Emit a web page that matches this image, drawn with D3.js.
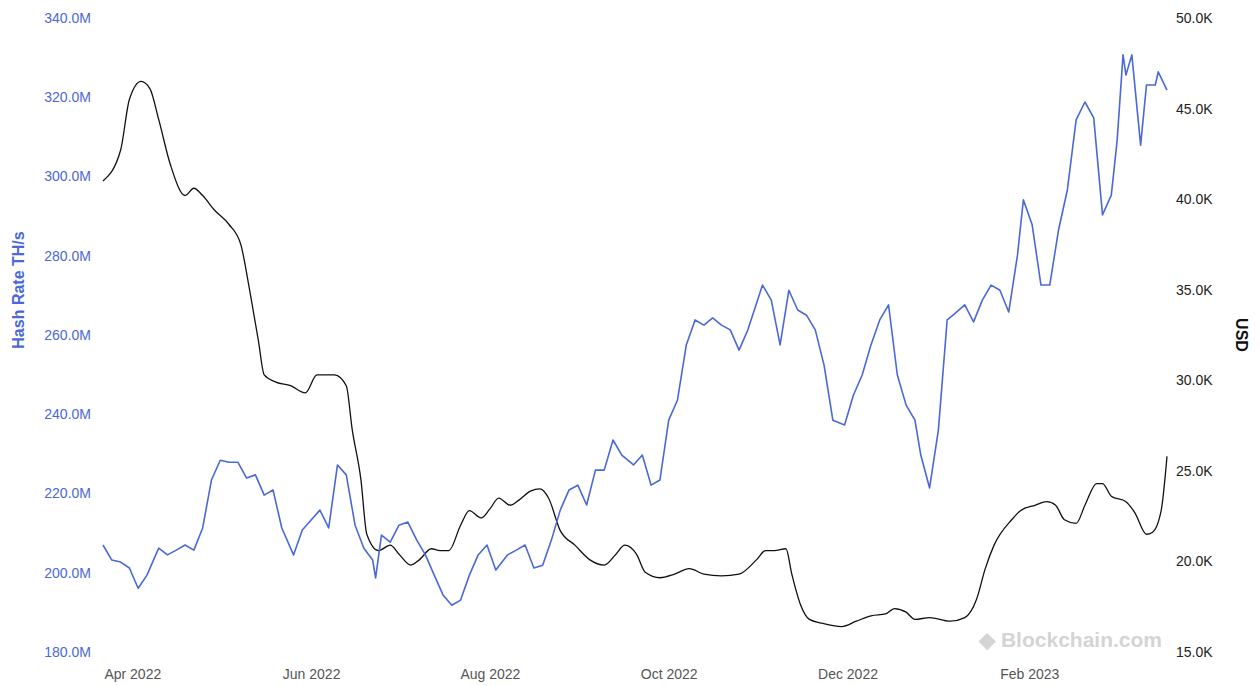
<!DOCTYPE html>
<html><head><meta charset="utf-8">
<script src="https://cdn.jsdelivr.net/npm/d3@7"></script>
<style>body{margin:0;background:#fff;font-family:"Liberation Sans",Arial,sans-serif}</style>
</head><body><div id="chart"></div>
<script>
// days since 2022-03-22
var hashDays = [0,3,6,9,12,15,19,22,25,28,31,34,37,40,43,46,49,52,55,58,61,65,68,71,74,77,80,83,86,89,92,93,95,98,101,104,107,110,113,116,119,122,125,128,131,134,138,141,144,147,150,153,156,159,162,165,168,171,174,177,181,184,187,190,193,196,199,202,205,208,211,214,217,220,225,228,231,234,237,240,243,246,249,253,256,259,262,265,268,271,274,277,279,282,285,288,290,294,297,300,303,306,309,312,314,317,320,323,326,329,332,335,338,341,344,346,348,349,351,354,356,359,360,363];
var hashValues = [207.0,203.2,202.7,201.2,196.1,199.4,206.2,204.5,205.7,207.0,205.7,211.3,223.4,228.4,227.9,227.9,223.9,224.7,219.6,220.9,211.3,204.5,210.8,213.3,215.8,211.3,227.2,224.7,212.0,206.2,203.2,198.7,209.5,207.7,212.0,212.8,208.3,204.5,199.4,194.4,191.8,193.1,199.4,204.5,207.0,200.7,204.5,205.7,207.0,201.2,201.9,208.3,215.8,220.9,222.1,217.1,225.9,225.9,233.5,229.7,227.2,229.7,222.1,223.4,238.5,243.6,257.5,263.8,262.5,264.3,262.5,261.3,256.2,261.3,272.6,268.8,257.5,271.3,266.3,265.0,261.3,252.4,238.5,237.3,244.8,249.9,257.5,263.8,267.6,249.9,242.3,238.5,229.7,221.4,236.0,263.8,265.0,267.6,263.3,268.8,272.6,271.3,265.8,280.2,294.1,287.8,272.6,272.6,286.5,296.6,314.3,318.8,314.8,290.3,295.3,309.2,330.7,325.6,330.7,307.9,323.1,323.1,326.4,321.8];
var priceDays = [0,6,9,13,16,19,23,28,31,34,38,43,47,50,53,55,59,64,69,73,79,83,85,88,90,94,98,101,105,108,112,115,118,122,125,129,132,135,139,142,146,149,152,156,161,166,171,175,178,182,185,190,195,200,205,211,217,223,226,229,233,235,238,241,245,252,257,262,267,270,274,277,282,289,294,298,301,304,310,313,318,322,325,328,332,335,339,341,344,349,352,356,358,361,363];
var priceValues = [41.0,42.7,45.5,46.5,46.1,44.4,41.9,40.2,40.6,40.2,39.4,38.6,37.5,35.0,32.2,30.3,29.9,29.7,29.3,30.3,30.3,29.7,27.3,24.5,21.5,20.6,20.9,20.4,19.8,20.1,20.7,20.6,20.6,22.0,22.8,22.4,22.9,23.5,23.1,23.4,23.9,24.0,23.5,21.7,20.9,20.1,19.8,20.4,20.9,20.4,19.4,19.1,19.3,19.6,19.3,19.2,19.3,20.1,20.6,20.6,20.7,19.3,17.6,16.8,16.6,16.4,16.7,17.0,17.1,17.4,17.2,16.8,16.9,16.7,16.9,17.9,19.6,20.9,22.3,22.8,23.1,23.3,23.1,22.3,22.1,23.1,24.3,24.3,23.6,23.3,22.7,21.5,21.6,22.8,25.8];
var hashTicks = [180,200,220,240,260,280,300,320,340];
var priceTicks = [15,20,25,30,35,40,45,50];
var monthTicks = ['2022-04-01','2022-06-01','2022-08-01','2022-10-01','2022-12-01','2023-02-01'];

var W = 1260, H = 686, blue = "#4a68d8", font = 'Liberation Sans, Arial, sans-serif';
var start = new Date(2022, 2, 22);
function dayToDate(d){ return d3.timeDay.offset(start, d); }
var parse = d3.timeParse('%Y-%m-%d');

var svg = d3.select('#chart').append('svg').attr('width', W).attr('height', H);

var x = d3.scaleTime().domain([start, dayToDate(363)]).range([103, 1167]);
var yL = d3.scaleLinear().domain([180, 340]).range([652, 18]);
var yR = d3.scaleLinear().domain([15, 50]).range([652, 18]);

var xAxis = svg.append('g').attr('transform', 'translate(0,660)')
    .call(d3.axisBottom(x).tickValues(monthTicks.map(parse))
        .tickFormat(d3.timeFormat('%b %Y')).tickSize(0).tickPadding(9));
xAxis.select('.domain').remove();
xAxis.selectAll('text').attr('fill', '#555').style('font-size', '14px').style('font-family', font);

var left = svg.append('g').attr('transform', 'translate(93,0)')
    .call(d3.axisLeft(yL).tickValues(hashTicks).tickFormat(function(d){ return d.toFixed(1) + 'M'; }).tickSize(0).tickPadding(2));
left.select('.domain').remove();
left.selectAll('text').attr('fill', blue).style('font-size', '14px').style('font-family', font);

var right = svg.append('g').attr('transform', 'translate(1174,0)')
    .call(d3.axisRight(yR).tickValues(priceTicks).tickFormat(function(d){ return d.toFixed(1) + 'K'; }).tickSize(0).tickPadding(2));
right.select('.domain').remove();
right.selectAll('text').attr('fill', '#222').style('font-size', '14px').style('font-family', font);

svg.append('text').attr('transform', 'translate(24,290) rotate(-90)')
    .attr('text-anchor', 'middle').attr('fill', blue).style('font-weight', 'bold').style('font-size', '16px')
    .style('font-family', font).text('Hash Rate TH/s');
svg.append('text').attr('transform', 'translate(1236,335) rotate(90)')
    .attr('text-anchor', 'middle').attr('fill', '#111').style('font-weight', 'bold').style('font-size', '16px')
    .style('font-family', font).text('USD');

// watermark
svg.append('text').attr('x', 1162).attr('y', 647).attr('text-anchor', 'end')
    .attr('fill', '#d4d4d4').style('font-size', '21px').style('font-weight', 'bold')
    .style('font-family', font).text('\u25C6 Blockchain.com');

var priceLine = d3.line().curve(d3.curveMonotoneX)
    .x(function(d, i){ return x(dayToDate(priceDays[i])); })
    .y(function(d){ return yR(d); });
svg.append('path').datum(priceValues).attr('d', priceLine)
    .attr('fill', 'none').attr('stroke', '#111').attr('stroke-width', 1.3);

var hashLine = d3.line()
    .x(function(d, i){ return x(dayToDate(hashDays[i])); })
    .y(function(d){ return yL(d); });
svg.append('path').datum(hashValues).attr('d', hashLine)
    .attr('fill', 'none').attr('stroke', blue).attr('stroke-width', 1.6).attr('stroke-linejoin', 'round');
</script></body></html>
